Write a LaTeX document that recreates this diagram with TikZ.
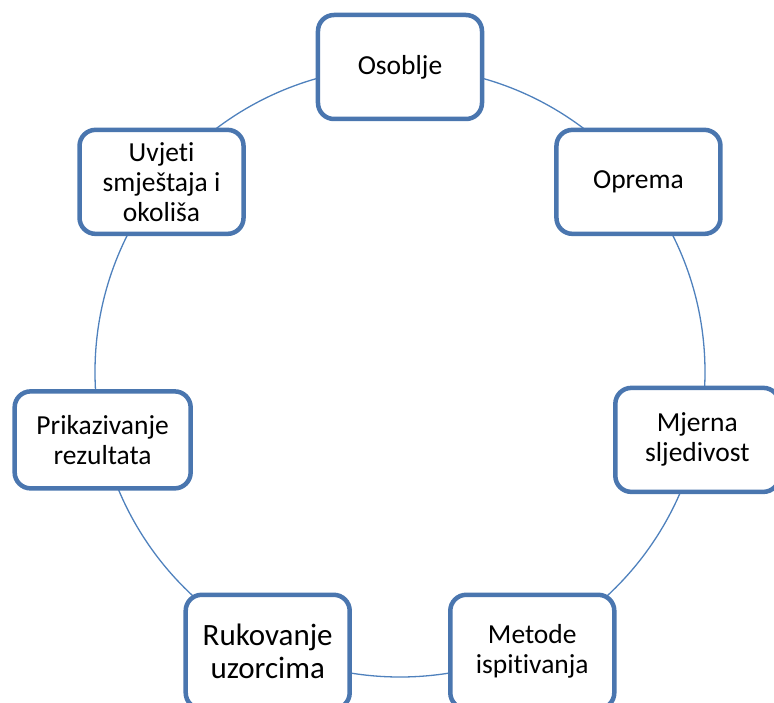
\documentclass[tikz,border=0pt]{standalone}
\usepackage{fontspec}
\setmainfont{Carlito}[RawFeature={-liga;-clig;-calt;-dlig}]
\usetikzlibrary{positioning}
\definecolor{boxblue}{RGB}{74,118,175}
\definecolor{ringblue}{RGB}{79,129,189}
\tikzset{
  stavka/.style={draw=boxblue,line width=4.5pt,fill=white,rounded corners=16pt,
    align=center,minimum width=164pt,minimum height=104pt,inner sep=2pt,
    font=\fontsize{27.5}{30}\selectfont},
  donja/.style={minimum height=114pt,yshift=-5pt},
}

\begin{document}
\begin{tikzpicture}[x=1pt,y=1pt]
  \useasboundingbox (-400,-330) rectangle (374,372);
  \clip (-400,-330) rectangle (374,372);
  % krug kroz sve stavke
  \coordinate (sredina) at (0,0);
  \draw[ringblue,line width=1.3pt] (sredina) circle[radius=305pt];

  \node[stavka] (osoblje) at (90:305pt) {Osoblje};
  \node[stavka] (oprema) at (38.57:305pt) {Oprema};
  \node[stavka] (mjerna) at (-12.86:305pt) {Mjerna\\sljedivost};
  \node[stavka,donja] (metode) at (-64.29:305pt) {Metode\\ispitivanja};
  \node[stavka,donja,font=\fontsize{31}{33}\selectfont] (rukovanje) at (-115.71:305pt) {Rukovanje\\uzorcima};
  \node[stavka,minimum width=176pt,minimum height=97pt] (prikaz) at (-167.14:305pt) {Prikazivanje\\rezultata};
  \node[stavka] (uvjeti) at (141.43:305pt) {Uvjeti\\smještaja i\\okoliša};
\end{tikzpicture}
\end{document}
